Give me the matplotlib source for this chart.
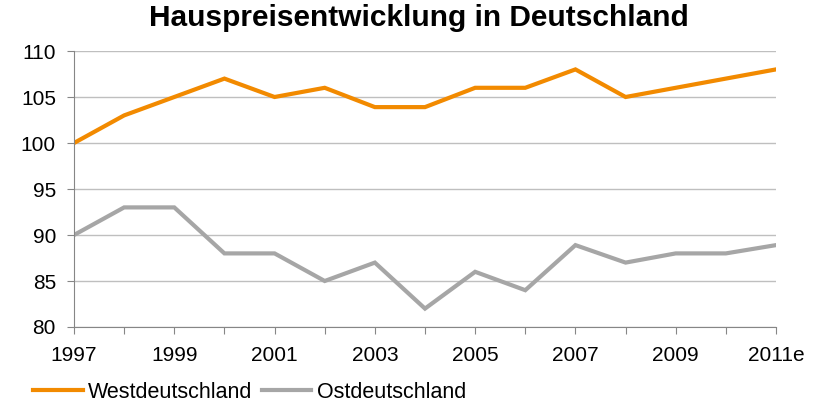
import matplotlib
matplotlib.use('Agg')
import matplotlib.pyplot as plt

years = list(range(1997, 2012))
tick_labels = ['1997', '1999', '2001', '2003', '2005', '2007', '2009', '2011e']
west = [100, 103, 105, 107, 105, 106, 103.9, 103.9, 106, 106, 108, 105, 106, 107, 108]
east = [90, 93, 93, 88, 88, 85, 87, 82, 86, 84, 88.9, 87, 88, 88, 88.9]

plt.rcParams['font.family'] = ['Liberation Sans', 'DejaVu Sans']

fig = plt.figure(figsize=(8.19, 4.03), dpi=100)
ax = fig.add_axes([74/819, 1 - 327/403, (776-74)/819, (327-51)/403])

ax.plot(years, west, color='#F28A00', lw=3, label='Westdeutschland', solid_joinstyle='miter')
ax.plot(years, east, color='#A6A6A6', lw=3, label='Ostdeutschland', solid_joinstyle='miter')

ax.set_xlim(1997, 2011)
ax.set_ylim(80, 110)
ax.set_yticks(range(80, 111, 5))
ax.set_xticks(years)
labels = []
j = 0
for i, y in enumerate(years):
    if i % 2 == 0:
        labels.append(tick_labels[j])
        j += 1
    else:
        labels.append('')
ax.set_xticklabels(labels)
ax.grid(axis='y', color='#BFBFBF', lw=1)
ax.set_axisbelow(True)
for s in ['top', 'right']:
    ax.spines[s].set_visible(False)
for s in ['left', 'bottom']:
    ax.spines[s].set_color('#868686')
ax.tick_params(axis='both', colors='#868686', labelcolor='black', labelsize=15, length=5)
ax.tick_params(axis='x', pad=9)
ax.tick_params(axis='y', pad=8)

fig.suptitle('Hauspreisentwicklung in Deutschland', fontsize=21.5, fontweight='bold',
             x=0.512, y=0.99)

ax.legend(loc='center left', bbox_to_anchor=(33/819, 1 - 392/403), bbox_transform=fig.transFigure,
          ncol=2, frameon=False, fontsize=15.5, handlelength=2.3, handletextpad=0.25,
          columnspacing=0.45, borderaxespad=0, borderpad=0)

fig.savefig('out.png', dpi=100)
